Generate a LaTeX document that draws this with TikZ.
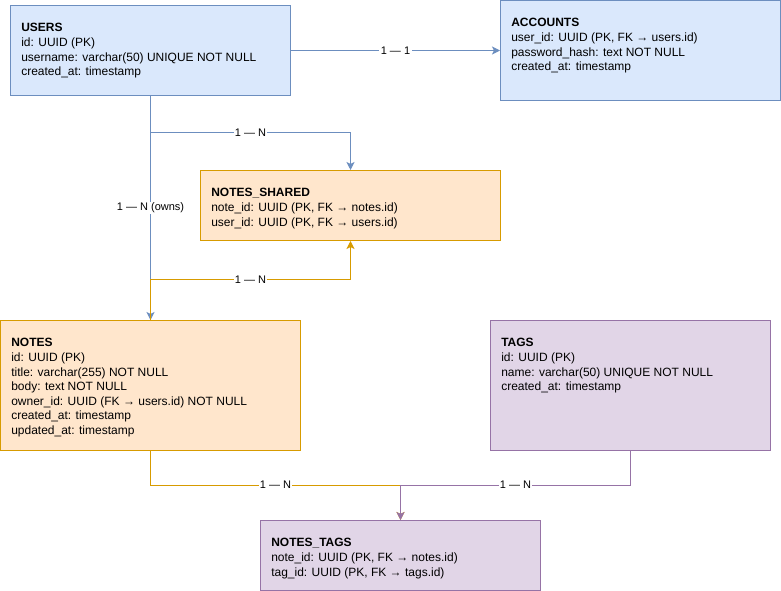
\documentclass[tikz,border=0pt]{standalone}
\usepackage{fontspec}
\setmainfont{Liberation Sans}
\usetikzlibrary{arrows.meta,calc}

\definecolor{usrfill}{RGB}{218,232,252}
\definecolor{usrline}{RGB}{108,142,191}
\definecolor{notefill}{RGB}{255,230,204}
\definecolor{noteline}{RGB}{215,155,0}
\definecolor{tagfill}{RGB}{225,213,231}
\definecolor{tagline}{RGB}{150,115,166}

\begin{document}
\begin{tikzpicture}[x=0.75pt,y=0.75pt,yscale=-1,xscale=1,
    tbl/.style={draw, line width=0.75pt, rectangle, anchor=north west, inner sep=0pt},
    fields/.style={anchor=north west, inner sep=0pt, align=left, font=\fontsize{9}{10.95}\selectfont},
    rel/.style={line width=0.75pt, -{Stealth[length=6pt,width=6pt,inset=1.5pt]}},
    card/.style={fill=white, inner sep=1pt, text=black, font=\fontsize{8.25}{9.9}\selectfont}]
        \useasboundingbox (0,0) rectangle (781,591);
        %Shape: Rectangle [users]
        \node [tbl, draw=usrline, fill=usrfill, minimum width=210pt, minimum height=67.5pt] (users) at (10,5) {};
        % Text Node
        \node [fields] (usersf) at ($(users.north west)+(11,18.3)$) {\textbf{USERS}\\id: UUID (PK)\\username: varchar(50) UNIQUE NOT NULL\\created\_at: timestamp};
        %Shape: Rectangle [accounts]
        \node [tbl, draw=usrline, fill=usrfill, minimum width=210pt, minimum height=75pt] (accounts) at (500,0) {};
        % Text Node
        \node [fields] (accountsf) at ($(accounts.north west)+(11,18.3)$) {\textbf{ACCOUNTS}\\user\_id: UUID (PK, FK → users.id)\\password\_hash: text NOT NULL\\created\_at: timestamp};
        %Shape: Rectangle [notes_shared]
        \node [tbl, draw=noteline, fill=notefill, minimum width=225pt, minimum height=52.5pt] (shared) at (200,170) {};
        % Text Node
        \node [fields] (sharedf) at ($(shared.north west)+(11,18.3)$) {\textbf{NOTES\_SHARED}\\note\_id: UUID (PK, FK → notes.id)\\user\_id: UUID (PK, FK → users.id)};
        %Shape: Rectangle [notes]
        \node [tbl, draw=noteline, fill=notefill, minimum width=225pt, minimum height=97.5pt] (notes) at (0,320) {};
        % Text Node
        \node [fields] (notesf) at ($(notes.north west)+(11,18.3)$) {\textbf{NOTES}\\id: UUID (PK)\\title: varchar(255) NOT NULL\\body: text NOT NULL\\owner\_id: UUID (FK → users.id) NOT NULL\\created\_at: timestamp\\updated\_at: timestamp};
        %Shape: Rectangle [tags]
        \node [tbl, draw=tagline, fill=tagfill, minimum width=210pt, minimum height=97.5pt] (tags) at (490,320) {};
        % Text Node
        \node [fields] (tagsf) at ($(tags.north west)+(11,18.3)$) {\textbf{TAGS}\\id: UUID (PK)\\name: varchar(50) UNIQUE NOT NULL\\created\_at: timestamp};
        %Shape: Rectangle [notes_tags]
        \node [tbl, draw=tagline, fill=tagfill, minimum width=210pt, minimum height=52.5pt] (ntags) at (260,520) {};
        % Text Node
        \node [fields] (ntagsf) at ($(ntags.north west)+(11,18.3)$) {\textbf{NOTES\_TAGS}\\note\_id: UUID (PK, FK → notes.id)\\tag\_id: UUID (PK, FK → tags.id)};

        %Straight Lines [users - accounts]
        \draw [rel, usrline] (users.east) -- node [card] {1 — 1} (accounts.west |- users.east);
        %Straight Lines [users - notes]
        \draw [rel, usrline] (users.south) -- node [card] {1 — N (owns)} (notes.north);
        %Straight Lines [users - notes_shared]
        \draw [rel, usrline] (users.south) |- node [card, pos=0.75] {1 — N} ($(shared.north)+(0,-37)$) -- (shared.north);
        %Straight Lines [notes - notes_shared]
        \draw [rel, noteline] (notes.north) -- ++(0,-40) -| node [card, pos=0.25] {1 — N} (shared.south);
        %Straight Lines [notes - notes_tags]
        \draw [rel, noteline] (notes.south) |- node [card, pos=0.75] {1 — N} ($(ntags.north)+(0,-35)$) -- (ntags.north);
        %Straight Lines [tags - notes_tags]
        \draw [rel, tagline] (tags.south) |- node [card, pos=0.75] {1 — N} ($(ntags.north)+(0,-35)$) -- (ntags.north);
\end{tikzpicture}
\end{document}
